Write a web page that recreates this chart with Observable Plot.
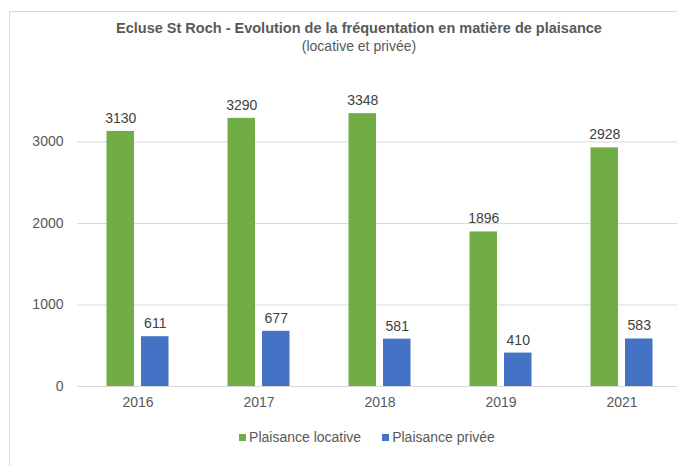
<!DOCTYPE html>
<html>
<head>
<meta charset="utf-8">
<script src="https://cdn.jsdelivr.net/npm/d3@7"></script>
<script src="https://cdn.jsdelivr.net/npm/@observablehq/plot@0.6"></script>
<style>
  html, body { margin: 0; padding: 0; background: #fff; overflow: hidden; width: 677px; height: 466px; }
  body { position: relative; font-family: "Liberation Sans", Arial, sans-serif; }
  #frame { position: absolute; left: 9px; top: 11px; width: 800px; height: 600px; border: 1px solid #d9d9d9; box-sizing: border-box; }
  #title { position: absolute; left: 0; width: 718px; top: 20px; text-align: center; font-size: 14.5px; line-height: 16px; font-weight: bold; color: #595959; white-space: nowrap; }
  #subtitle { position: absolute; left: 0; width: 718px; top: 38px; text-align: center; font-size: 14px; line-height: 16px; color: #595959; white-space: nowrap; }
  #chart { position: absolute; left: 0; top: 80px; }
  #legend { position: absolute; left: 0; width: 734px; top: 429px; text-align: center; font-size: 14px; line-height: 16px; color: #595959; white-space: nowrap; }
  .item { display: inline-block; }
  .sw { display: inline-block; width: 7px; height: 7px; margin-right: 3px; vertical-align: 1px; }
</style>
</head>
<body>
<div id="frame"></div>
<div id="title">Ecluse St Roch - Evolution de la fréquentation en matière de plaisance</div>
<div id="subtitle">(locative et privée)</div>
<div id="chart"></div>
<div id="legend"></div>
<script>
const years = ["2016", "2017", "2018", "2019", "2021"];
const seriesNames = ["Plaisance locative", "Plaisance privée"];
const seriesColors = ["#70ad47", "#4472c4"];
const locative = [3130, 3290, 3348, 1896, 2928];
const privee = [611, 677, 581, 410, 583];
const yTicks = [0, 1000, 2000, 3000];

const rows = [];
years.forEach((y, i) => {
  rows.push({year: y, series: seriesNames[0], value: locative[i]});
  rows.push({year: y, series: seriesNames[1], value: privee[i]});
});

const plot = Plot.plot({
  width: 677,
  height: 345,
  marginLeft: 77,
  marginRight: -5,
  marginTop: 20.75,
  marginBottom: 39,
  style: {fontSize: "14px", fontFamily: "'Liberation Sans', Arial, sans-serif", color: "#595959", background: "transparent"},
  fx: {domain: years, paddingInner: 0, paddingOuter: 0, round: false, axis: null, label: null},
  x: {domain: seriesNames, paddingInner: 0.203, paddingOuter: 0.855, round: false, axis: null},
  y: {domain: [0, 3500], axis: null},
  color: {domain: seriesNames, range: seriesColors},
  marks: [
    Plot.gridY(yTicks, {stroke: "#d9d9d9", strokeOpacity: 1, strokeWidth: 1}),
    Plot.barY(rows, {fx: "year", x: "series", y: "value", fill: "series"}),
    Plot.text(rows, {fx: "year", x: "series", y: "value", text: d => String(d.value), dy: -13, fill: "#404040"}),
    Plot.axisY(yTicks, {tickSize: 0, tickPadding: 14, label: null, tickFormat: d => String(d), fill: "#595959"}),
    Plot.axisFx({anchor: "bottom", tickSize: 0, tickPadding: 11, label: null, fill: "#595959"})
  ]
});
document.getElementById("chart").appendChild(plot);

const legend = document.getElementById("legend");
seriesNames.forEach((name, i) => {
  const item = document.createElement("span");
  item.className = "item";
  if (i > 0) item.style.marginLeft = "21px";
  const sw = document.createElement("span");
  sw.className = "sw";
  sw.style.background = seriesColors[i];
  item.appendChild(sw);
  item.appendChild(document.createTextNode(name));
  legend.appendChild(item);
});
</script>
</body>
</html>
